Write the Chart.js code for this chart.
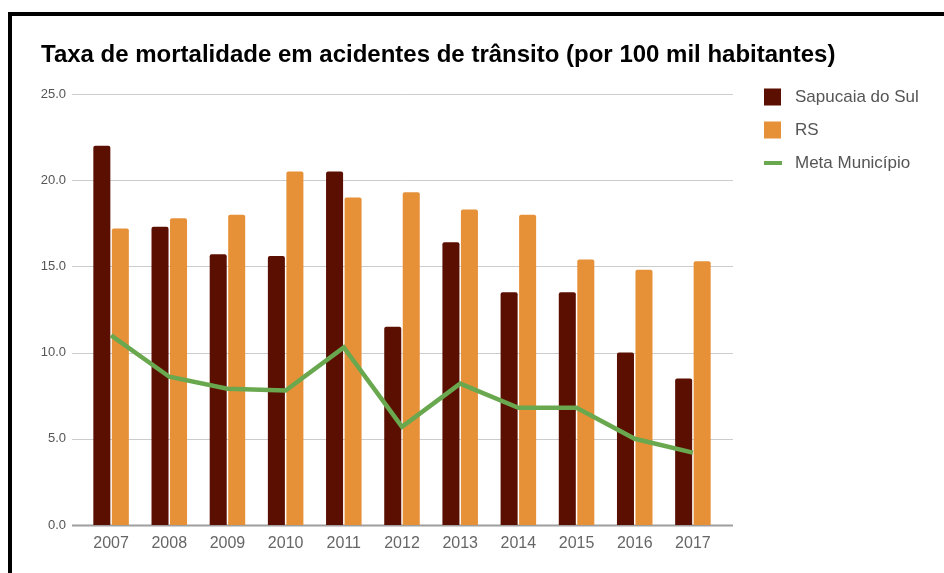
<!DOCTYPE html>
<html>
<head>
<meta charset="utf-8">
<script src="https://cdn.jsdelivr.net/npm/chart.js@4"></script>
<style>
  html, body { margin: 0; padding: 0; background: #fff; }
  #wrap { position: relative; width: 944px; height: 573px; overflow: hidden; }
  #frame { position: absolute; left: 8px; top: 12px; right: 0; bottom: 0;
           border-top: 4px solid #000; border-left: 4px solid #000; pointer-events: none; }
</style>
</head>
<body>
<div id="wrap">
  <canvas id="chart" width="944" height="573"></canvas>
  <div id="frame"></div>
</div>
<script>
// data
const years = ['2007','2008','2009','2010','2011','2012','2013','2014','2015','2016','2017'];
const sapucaia = [22.0, 17.3, 15.7, 15.6, 20.5, 11.5, 16.4, 13.5, 13.5, 10.0, 8.5];
const rs       = [17.2, 17.8, 18.0, 20.5, 19.0, 19.3, 18.3, 18.0, 15.4, 14.8, 15.3];
const meta     = [11.0, 8.6, 7.9, 7.8, 10.3, 5.7, 8.2, 6.8, 6.8, 5.0, 4.2];
const yTicks   = [0, 5, 10, 15, 20, 25];
const titleText = 'Taxa de mortalidade em acidentes de trânsito (por 100 mil habitantes)';

const FONT = "'Liberation Sans', Arial, sans-serif";

// title drawn by hand so it can run wider than the plot (Chart.js squeezes it to the box)
const leftTitle = {
  id: 'leftTitle',
  afterDraw(chart) {
    const {ctx} = chart;
    ctx.save();
    ctx.font = 'bold 24px ' + FONT;
    ctx.fillStyle = '#000';
    ctx.textBaseline = 'alphabetic';
    ctx.textAlign = 'left';
    ctx.fillText(titleText, 41, 62);
    ctx.restore();
  }
};

// horizontal gridlines, a bit wider than the category area
const gridLines = {
  id: 'gridLines',
  beforeDatasetsDraw(chart) {
    const {ctx, chartArea, scales: {y}} = chart;
    ctx.save();
    for (const v of yTicks) {
      const py = Math.round(y.getPixelForValue(v)) + 0.5;
      ctx.strokeStyle = v === 0 ? '#9e9e9e' : '#cccccc';
      ctx.lineWidth = v === 0 ? 2 : 1;
      ctx.beginPath();
      ctx.moveTo(chartArea.left - 10, py);
      ctx.lineTo(chartArea.right + 11, py);
      ctx.stroke();
    }
    ctx.restore();
  }
};

// legend on the right
const sideLegend = {
  id: 'sideLegend',
  afterDraw(chart) {
    const {ctx} = chart;
    ctx.save();
    ctx.font = '17px ' + FONT;
    ctx.textBaseline = 'middle';
    chart.data.datasets.forEach((ds, i) => {
      const yc = 97 + i * 33;
      if (ds.type === 'line') {
        ctx.strokeStyle = ds.borderColor;
        ctx.lineWidth = 4;
        ctx.beginPath();
        ctx.moveTo(764, yc);
        ctx.lineTo(782, yc);
        ctx.stroke();
      } else {
        ctx.fillStyle = ds.backgroundColor;
        ctx.fillRect(764, yc - 8.5, 17, 17);
      }
      ctx.fillStyle = '#555';
      ctx.fillText(ds.label, 795, yc);
    });
    ctx.restore();
  }
};

const barStyle = {
  borderRadius: 2,
  borderSkipped: 'bottom',
  categoryPercentage: 0.636,
  barPercentage: 0.92,
  order: 1
};

new Chart(document.getElementById('chart'), {
  data: {
    labels: years,
    datasets: [
      { type: 'bar', label: 'Sapucaia do Sul', data: sapucaia, backgroundColor: '#5b0f00', ...barStyle },
      { type: 'bar', label: 'RS', data: rs, backgroundColor: '#e69138', ...barStyle },
      {
        type: 'line',
        label: 'Meta Município',
        data: meta,
        borderColor: '#6aa84f',
        backgroundColor: '#6aa84f',
        borderWidth: 4.5,
        pointRadius: 0,
        tension: 0,
        order: 0
      }
    ]
  },
  options: {
    responsive: false,
    animation: false,
    layout: { padding: { left: 40, right: 222, top: 94, bottom: 20 } },
    plugins: {
      legend: { display: false },
      tooltip: { enabled: false },
      title: { display: false }
    },
    scales: {
      x: {
        offset: true,
        grid: { display: false, drawTicks: false },
        border: { display: false },
        ticks: { color: '#666', font: { family: FONT, size: 16 }, padding: 9, maxRotation: 0, autoSkip: false },
        afterFit(s) { s.height = 28; }
      },
      y: {
        min: 0,
        max: 25,
        grid: { display: false, drawTicks: false },
        border: { display: false },
        afterBuildTicks(s) { s.ticks = yTicks.map(v => ({value: v})); },
        ticks: {
          color: '#555',
          font: { family: FONT, size: 13 },
          padding: 16,
          callback: v => v.toFixed(1)
        },
        afterFit(s) { s.width = 42; }
      }
    }
  },
  plugins: [gridLines, sideLegend, leftTitle]
});
</script>
</body>
</html>
